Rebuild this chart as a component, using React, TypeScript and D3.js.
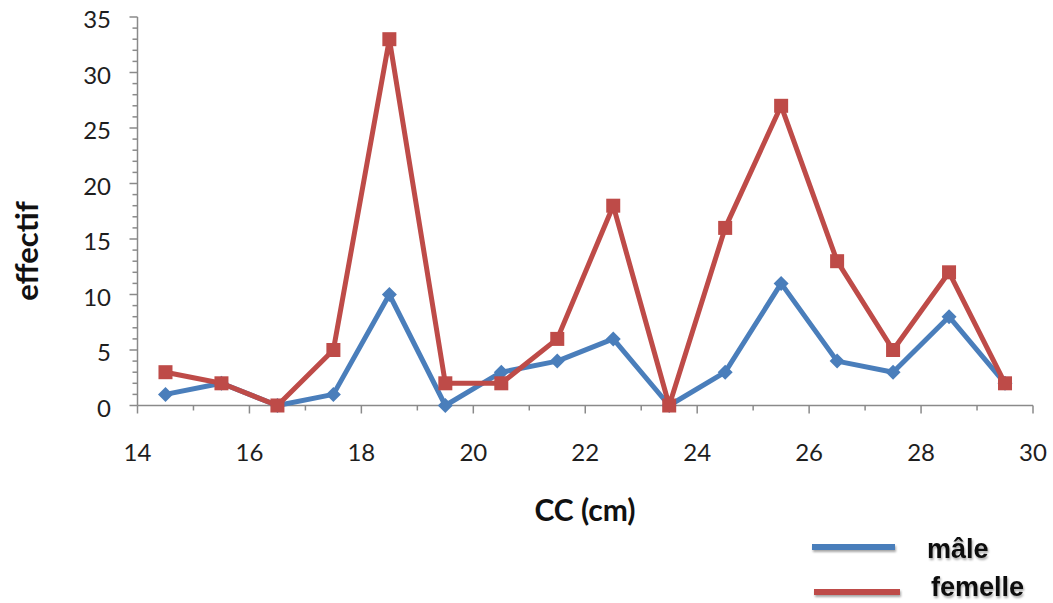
import React from "react";
import * as d3 from "d3";

const classCenters = [14.5, 15.5, 16.5, 17.5, 18.5, 19.5, 20.5, 21.5, 22.5, 23.5, 24.5, 25.5, 26.5, 27.5, 28.5, 29.5];
const maleValues = [1, 2, 0, 1, 10, 0, 3, 4, 6, 0, 3, 11, 4, 3, 8, 2];
const femaleValues = [3, 2, 0, 5, 33, 2, 2, 6, 18, 0, 16, 27, 13, 5, 12, 2];
const xTicks = [14, 16, 18, 20, 22, 24, 26, 28, 30];
const yTicks = [0, 5, 10, 15, 20, 25, 30, 35];
const seriesNames = ["mâle", "femelle"];
const xLabel = "CC (cm)";
const yLabel = "effectif";

const W = 1053;
const H = 603;
const BLUE = "#4A7EBB";
const RED = "#BE4B48";
const AXIS = "#8a8a8a";

export default function App() {
  const x = d3.scaleLinear().domain([14, 30]).range([137.5, 1033]);
  const y = d3.scaleLinear().domain([0, 35]).range([405.5, 17]);

  const line = d3
    .line<[number, number]>()
    .x((d) => x(d[0]))
    .y((d) => y(d[1]));

  const maleData: [number, number][] = classCenters.map((c, i) => [c, maleValues[i]]);
  const femaleData: [number, number][] = classCenters.map((c, i) => [c, femaleValues[i]]);

  const yMinor = d3.range(0, 36, 1);
  const xMinor = d3.range(14, 31, 1);

  const sq = 14;
  const dm = 7.5;

  return (
    <svg
      width={W}
      height={H}
      style={{ position: "fixed", left: 0, top: 0, background: "#fff" }}
    >
      <defs>
        <filter id="sh" x="-20%" y="-50%" width="140%" height="200%">
          <feDropShadow dx="1" dy="2" stdDeviation="1.2" floodColor="#000" floodOpacity="0.35" />
        </filter>
      </defs>
      <rect width={W} height={H} fill="#fff" />

      {/* Y axis */}
      <line x1={x(14)} x2={x(14)} y1={y(35)} y2={y(0)} stroke={AXIS} strokeWidth={1.5} />
      {yMinor.map((v) => (
        <line
          key={"ym" + v}
          x1={x(14) - (v % 5 === 0 ? 8 : 5)}
          x2={x(14)}
          y1={y(v)}
          y2={y(v)}
          stroke={AXIS}
          strokeWidth={1.5}
        />
      ))}
      {yTicks.map((v) => (
        <text
          key={"yt" + v}
          x={111}
          y={y(v) + 1.5}
          textAnchor="end"
          dominantBaseline="central"
          fontFamily="Lato, 'Open Sans', sans-serif"
          fontSize={24}
          fill="#1e1e1e"
        >
          {v}
        </text>
      ))}

      {/* X axis */}
      <line x1={x(14)} x2={x(30)} y1={y(0)} y2={y(0)} stroke={AXIS} strokeWidth={1.5} />
      {xMinor.map((v) => (
        <line
          key={"xm" + v}
          x1={x(v)}
          x2={x(v)}
          y1={y(0)}
          y2={y(0) + (v % 2 === 0 ? 8 : 5)}
          stroke={AXIS}
          strokeWidth={1.5}
        />
      ))}
      {xTicks.map((v) => (
        <text
          key={"xt" + v}
          x={x(v)}
          y={451}
          textAnchor="middle"
          dominantBaseline="central"
          fontFamily="Lato, 'Open Sans', sans-serif"
          fontSize={24}
          fill="#1e1e1e"
        >
          {v}
        </text>
      ))}

      {/* Axis titles */}
      <text
        x={585}
        y={509}
        textAnchor="middle"
        dominantBaseline="central"
        fontFamily="Lato, 'Open Sans', sans-serif"
        fontWeight="bold"
        fontSize={30}
        fill="#111"
      >
        {xLabel}
      </text>
      <text
        transform={`translate(26,251) rotate(-90)`}
        textAnchor="middle"
        dominantBaseline="central"
        fontFamily="Lato, 'Open Sans', sans-serif"
        fontWeight="bold"
        fontSize={31}
        fill="#111"
      >
        {yLabel}
      </text>

      {/* Series: mâle */}
      <path d={line(maleData) || ""} fill="none" stroke={BLUE} strokeWidth={5} strokeLinejoin="round" />
      {maleData.map((d, i) => (
        <path
          key={"md" + i}
          d={`M${x(d[0])},${y(d[1]) - dm} L${x(d[0]) + dm},${y(d[1])} L${x(d[0])},${y(d[1]) + dm} L${x(d[0]) - dm},${y(d[1])} Z`}
          fill={BLUE}
        />
      ))}

      {/* Series: femelle */}
      <path d={line(femaleData) || ""} fill="none" stroke={RED} strokeWidth={5} strokeLinejoin="round" />
      {femaleData.map((d, i) => (
        <rect
          key={"fd" + i}
          x={x(d[0]) - sq / 2}
          y={y(d[1]) - sq / 2}
          width={sq}
          height={sq}
          fill={RED}
        />
      ))}

      {/* Legend */}
      <g filter="url(#sh)">
        <line x1={812} x2={895} y1={547} y2={547} stroke={BLUE} strokeWidth={6} />
        <line x1={814} x2={900} y1={592} y2={592} stroke={RED} strokeWidth={6} />
        <text
          x={927}
          y={558}
          fontFamily="'Liberation Sans', Arial, sans-serif"
          fontWeight="bold"
          fontSize={27}
          fill="#111"
        >
          {seriesNames[0]}
        </text>
        <text
          x={931}
          y={596}
          fontFamily="'Liberation Sans', Arial, sans-serif"
          fontWeight="bold"
          fontSize={27}
          fill="#111"
        >
          {seriesNames[1]}
        </text>
      </g>
    </svg>
  );
}
